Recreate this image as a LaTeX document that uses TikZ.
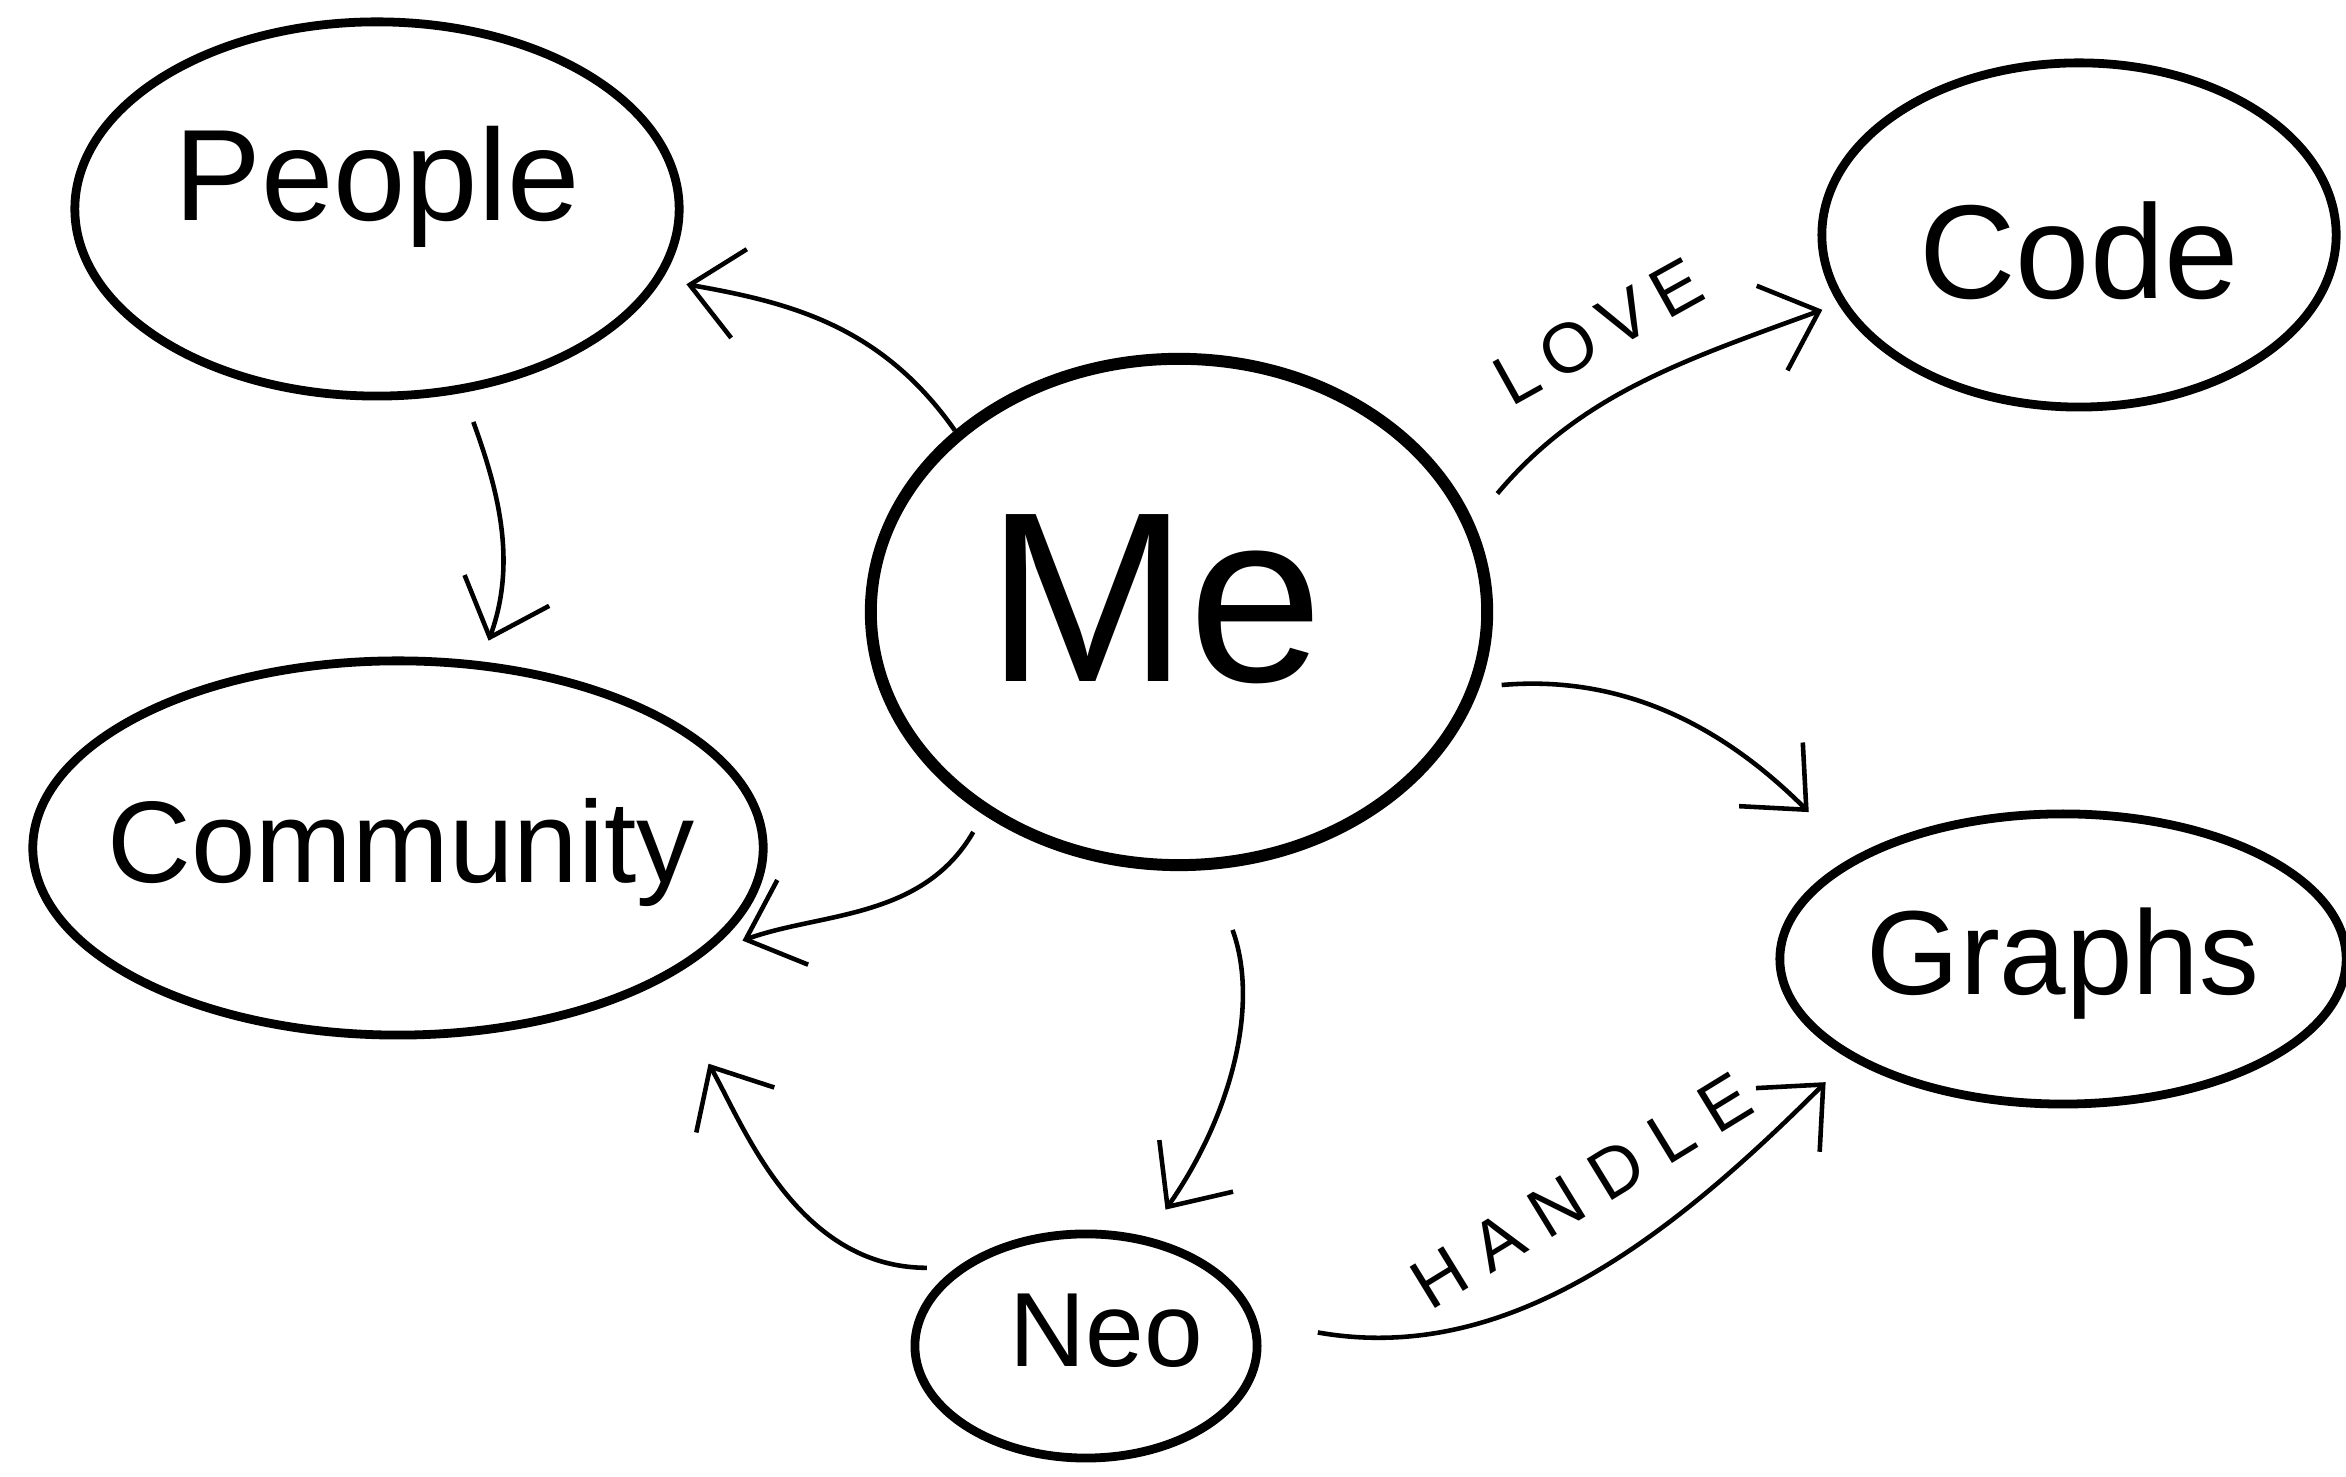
\documentclass[tikz,border=0pt]{standalone}
\usepackage{fontspec}
\setmainfont{Liberation Sans}
\usetikzlibrary{shapes.geometric,arrows.meta}
\tikzset{
  bubble/.style={ellipse, draw, line width=2.5pt, inner sep=0pt},
  bigbubble/.style={bubble, line width=3.4pt},
  word/.style={inner sep=0pt},
  link/.style={line width=1.3pt, -{Straight Barb[length=5mm,width=9mm]}},
  tag/.style={font=\fontsize{20}{22}\selectfont, inner sep=0pt}
}
\begin{document}
\begin{tikzpicture}[x=0.01cm,y=0.01cm]
  \useasboundingbox (0,0) rectangle (2346,1477);
  % topic outlines
  \node[bubble, minimum width=6.04cm, minimum height=3.74cm] (people) at (377,1268) {};
  \node[bubble, minimum width=5.14cm, minimum height=3.44cm] (code) at (2079,1242) {};
  \node[bigbubble, minimum width=6.16cm, minimum height=5.06cm] (me) at (1179,865) {};
  \node[bubble, minimum width=7.30cm, minimum height=3.74cm] (community) at (398,629) {};
  \node[bubble, minimum width=5.66cm, minimum height=2.90cm] (graphs) at (2063,518) {};
  \node[bubble, minimum width=3.42cm, minimum height=2.24cm] (neo) at (1086,131) {};
  % topic names
  \node[word, font=\fontsize{37}{40}\selectfont] (peopletext) at ([yshift=2.2mm]people) {People};
  \node[word, font=\fontsize{38}{40}\selectfont] (codetext) at ([yshift=-1.6mm]code) {Code};
  \node[word, font=\fontsize{69}{72}\selectfont] (metext) at ([xshift=-2.4mm,yshift=1.3mm]me) {Me};
  \node[word, font=\fontsize{33}{36}\selectfont] (communitytext) at ([xshift=0.3mm,yshift=-0.5mm]community) {Community};
  \node[word, font=\fontsize{34}{36}\selectfont] (graphstext) at ([yshift=-0.5mm]graphs) {Graphs};
  \node[word, font=\fontsize{30}{32}\selectfont] (neotext) at ([xshift=2mm,yshift=1.5mm]neo) {Neo};
  % relations
  \draw[link, shorten >=2.5mm] (me.141) to[out=125, in=-10] (people.-14);
  \draw[link, shorten <=3.1mm, shorten >=2.2mm] (people.-65) to[out=-70, in=70] (community.66);
  \draw[link, shorten <=3.7mm, shorten >=1.7mm] (me.17) to[out=50, in=200]
        node[tag, sloped, above=4mm, pos=0.48] (love) {\addfontfeatures{LetterSpace=18}LOVE} (code.196);
  \draw[link, shorten <=2.2mm, shorten >=6.3mm] (me.-14) to[out=5, in=135] (graphs.154);
  \draw[link, shorten <=2.0mm, shorten >=3.9mm] (me.226) to[out=240, in=20] (community.-19);
  \draw[link, shorten <=6.4mm, shorten >=3.3mm] (me.-83) to[out=-70, in=55] (neo.61);
  \draw[link, shorten <=2.9mm, shorten >=9.4mm] (neo.149) to[out=180, in=-60] (community.-27);
  \draw[link, shorten <=6.1mm, shorten >=3.3mm] (neo.8) to[out=-10, in=225]
        node[tag, sloped, above=4.5mm, pos=0.57] (handle) {\addfontfeatures{LetterSpace=28}HANDLE} (graphs.205);
\end{tikzpicture}
\end{document}
